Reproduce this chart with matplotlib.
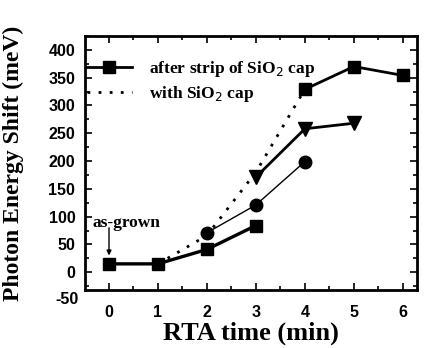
"""
Photon energy shift vs. RTA time, redrawn from a scanned figure.
"""
import matplotlib
matplotlib.use("Agg")
import matplotlib.pyplot as plt
from matplotlib.lines import Line2D

# data (meV)
t_sq_a   = [0, 1, 2, 3]
sq_a     = [15, 15, 41, 84]
t_sq_b   = [4, 5, 6]
sq_b     = [329, 370, 354]
t_circ   = [2, 3, 4]
circ     = [71, 121, 199]
t_tri    = [3, 4, 5]
tri      = [171, 258, 268]
t_dot    = [1, 2, 3, 4]
dot      = [15, 66, 180, 329]

x_ticks  = [0, 1, 2, 3, 4, 5, 6]
y_ticks  = [0, 50, 100, 150, 200, 250, 300, 350, 400]

SERIF = ["Liberation Serif", "DejaVu Serif"]
SANS = ["Liberation Sans", "DejaVu Sans"]

fig = plt.figure(figsize=(4.24, 3.48), dpi=100)
ax = fig.add_axes([0.2005, 0.1667, 0.783, 0.730])

ax.plot(t_sq_a, sq_a, "k-", lw=2.4, marker="s", ms=9)
ax.plot(t_sq_b, sq_b, "k-", lw=2.0, marker="s", ms=9)
ax.plot(t_circ, circ, "k-", lw=1.0, marker="o", ms=9)
ax.plot(t_tri, tri, "k-", lw=2.0, marker="v", ms=9.5)
ax.plot(t_dot, dot, "k", ls=(0, (1, 3)), lw=2.0)

ax.set_xlim(-0.49, 6.29)
ax.set_ylim(-32, 420)
ax.set_xticks(x_ticks)
ax.set_xticks([x + 0.5 for x in x_ticks[:-1]], minor=True)
ax.set_yticks(y_ticks)
ax.set_yticks([y + 25 for y in [-50] + y_ticks], minor=True)
ax.tick_params(which="both", direction="in", top=True, right=True, width=1.2)
ax.tick_params(which="major", length=5, labelsize=11.5)
ax.tick_params(axis="x", which="major", pad=11)
ax.tick_params(axis="y", which="major", pad=7)
ax.tick_params(which="minor", length=3)
for lab in ax.get_xticklabels() + ax.get_yticklabels():
    lab.set_fontweight("heavy")
    lab.set_family(SANS)
for sp in ax.spines.values():
    sp.set_linewidth(2)
# the scan shows a "-50" label below the frame
ax.text(-0.49 - 0.14, -50, "-50", ha="right", va="center", family=SANS,
        fontsize=11.5, fontweight="heavy", clip_on=False)

ax.set_xlabel("RTA time (min)", family=SERIF, fontsize=19, fontweight="bold",
              labelpad=1)
ax.set_ylabel("Photon Energy Shift (meV)", family=SERIF, fontsize=17,
              fontweight="bold")
ax.yaxis.set_label_coords(-0.185, 0.5)

# "as-grown" note with a vertical arrow down to the first point
ax.text(-0.33, 89, "as-grown", family=SERIF, fontsize=12.5, fontweight="bold",
        ha="left", va="center")
ax.annotate("", xy=(0, 30), xytext=(0, 80),
            arrowprops=dict(arrowstyle="-|>", color="k", lw=1,
                            shrinkA=0, shrinkB=0, mutation_scale=7))

handles = [
    Line2D([], [], color="k", lw=2, marker="s", ms=9),
    Line2D([], [], color="k", ls=(0, (1, 3)), lw=2),
]
ax.legend(handles, ["after strip of SiO$_2$ cap", "with SiO$_2$ cap"],
          loc="upper left", bbox_to_anchor=(0.0, 0.915), frameon=False,
          borderaxespad=0, borderpad=0.1,
          handlelength=2.6, handletextpad=1.0, labelspacing=0.3,
          prop=dict(family=SERIF, size=12.5, weight="bold"))

plt.savefig("out.png", dpi=100)
